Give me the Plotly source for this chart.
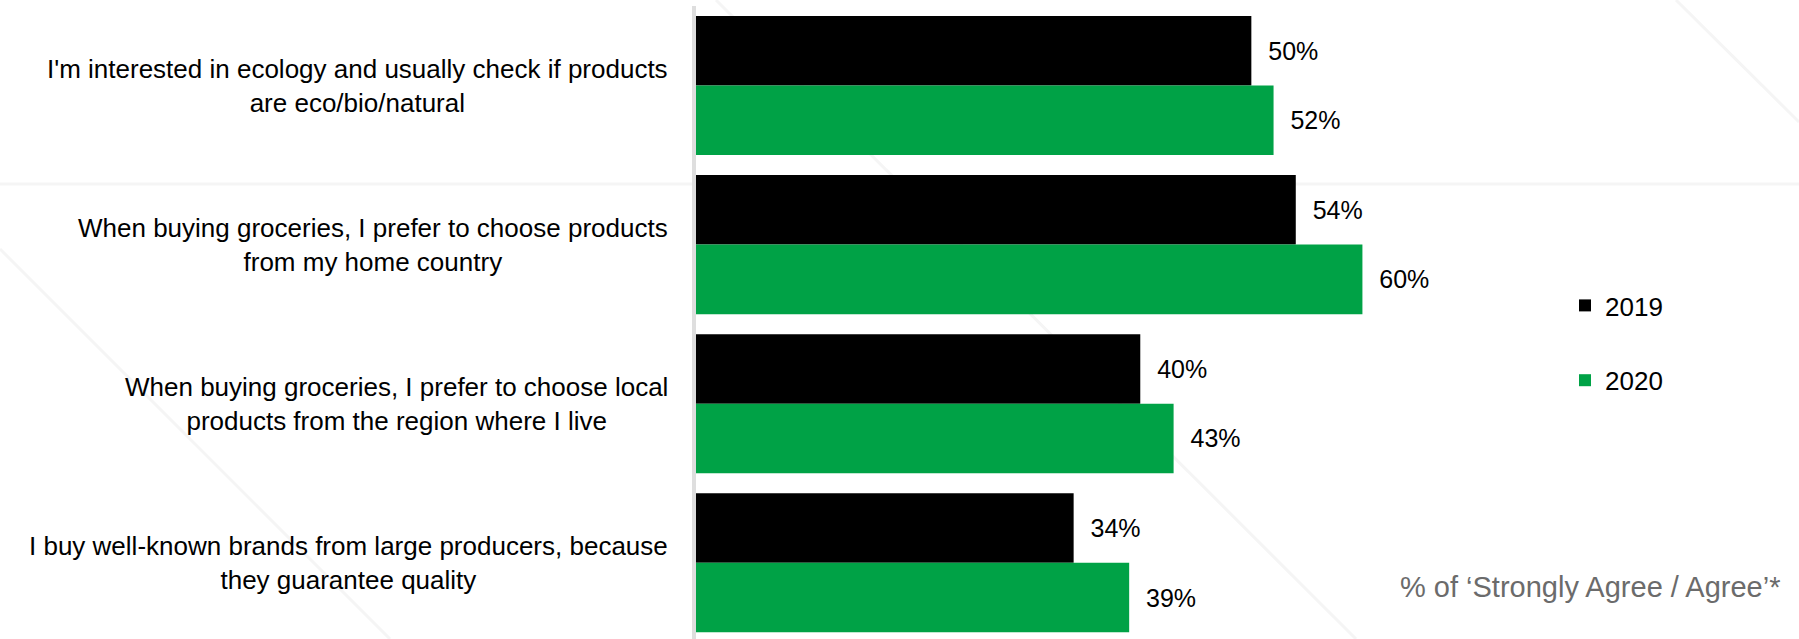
import plotly.graph_objects as go

categories = [
    "I'm interested in ecology and usually check if products<br>are eco/bio/natural",
    "When buying groceries, I prefer to choose products<br>from my home country",
    "When buying groceries, I prefer to choose local<br>products from the region where I live",
    "I buy well-known brands from large producers, because<br>they guarantee quality",
]
values_2019 = [50, 54, 40, 34]
values_2020 = [52, 60, 43, 39]
series_names = ["2019", "2020"]
note_text = "% of \u2018Strongly Agree / Agree\u2019*"

W, H = 1799, 639
ML, MR, MT, MB = 696, 0, 6, 0
PW, PH = W - ML - MR, H - MT - MB


def px(x):
    return (x - ML) / PW


def py(y):
    return 1 - (y - MT) / PH


BLACK = "#000000"
GREEN = "#00A246"
FONT = "Liberation Sans, Arial, sans-serif"

pos = list(range(len(categories)))

fig = go.Figure()
for name, vals, col in [(series_names[0], values_2019, BLACK), (series_names[1], values_2020, GREEN)]:
    fig.add_trace(go.Bar(
        y=pos, x=vals, orientation="h", name=name, legendgroup=name,
        marker=dict(color=col, line=dict(width=0)),
        text=[f"\u00a0\u00a0{v}%" for v in vals], textposition="outside",
        textfont=dict(family=FONT, size=25, color="#000000"),
        cliponaxis=False,
    ))

# category labels (centered lines, right-aligned block)
for i, c in enumerate(categories):
    fig.add_annotation(x=px(670), xref="paper", xanchor="right", y=i, yref="y",
                       yanchor="middle", text=c, showarrow=False, align="center",
                       font=dict(family=FONT, size=26, color="#000000"))

fig.add_annotation(x=px(1782), xref="paper", xanchor="right", y=py(587), yref="paper",
                   yanchor="middle", text=note_text, showarrow=False,
                   font=dict(family=FONT, size=29, color="#6b6b6b"))

# faint background pattern lines
faint = "#f5f5f5"
lines = [
    (0, 184, W, 184),
    (0, 249, 390, 639),
    (716, 0, 1356, 639),
    (1676, 0, 1799, 122),
]
for x0, y0, x1, y1 in lines:
    fig.add_shape(type="line", xref="paper", yref="paper",
                  x0=px(x0), y0=py(y0), x1=px(x1), y1=py(y1),
                  line=dict(color=faint, width=3), layer="below")

unit = 159.1
top = -(85.5 - MT) / unit
bottom = top + PH / unit

fig.update_layout(
    width=W, height=H,
    margin=dict(l=ML, r=MR, t=MT, b=MB, pad=0),
    paper_bgcolor="white", plot_bgcolor="rgba(0,0,0,0)",
    barmode="group", bargap=0.126, bargroupgap=0,
    font=dict(family=FONT, color="#000000"),
    showlegend=True,
    legend=dict(x=px(1565), xanchor="left", y=py(282), yanchor="top",
                font=dict(family=FONT, size=26, color="#000000"),
                tracegroupgap=38, bgcolor="rgba(0,0,0,0)", borderwidth=0,
                itemclick=False, itemdoubleclick=False),
    xaxis=dict(range=[0, PW / 11.107], visible=False, showgrid=False, zeroline=False,
               fixedrange=True),
    yaxis=dict(range=[bottom, top], showgrid=False, zeroline=False,
               showticklabels=False, ticks="", tickvals=pos,
               showline=True, linecolor="#dedede", linewidth=4, fixedrange=True),
)

fig.write_html("out.html", config={"displayModeBar": False})
